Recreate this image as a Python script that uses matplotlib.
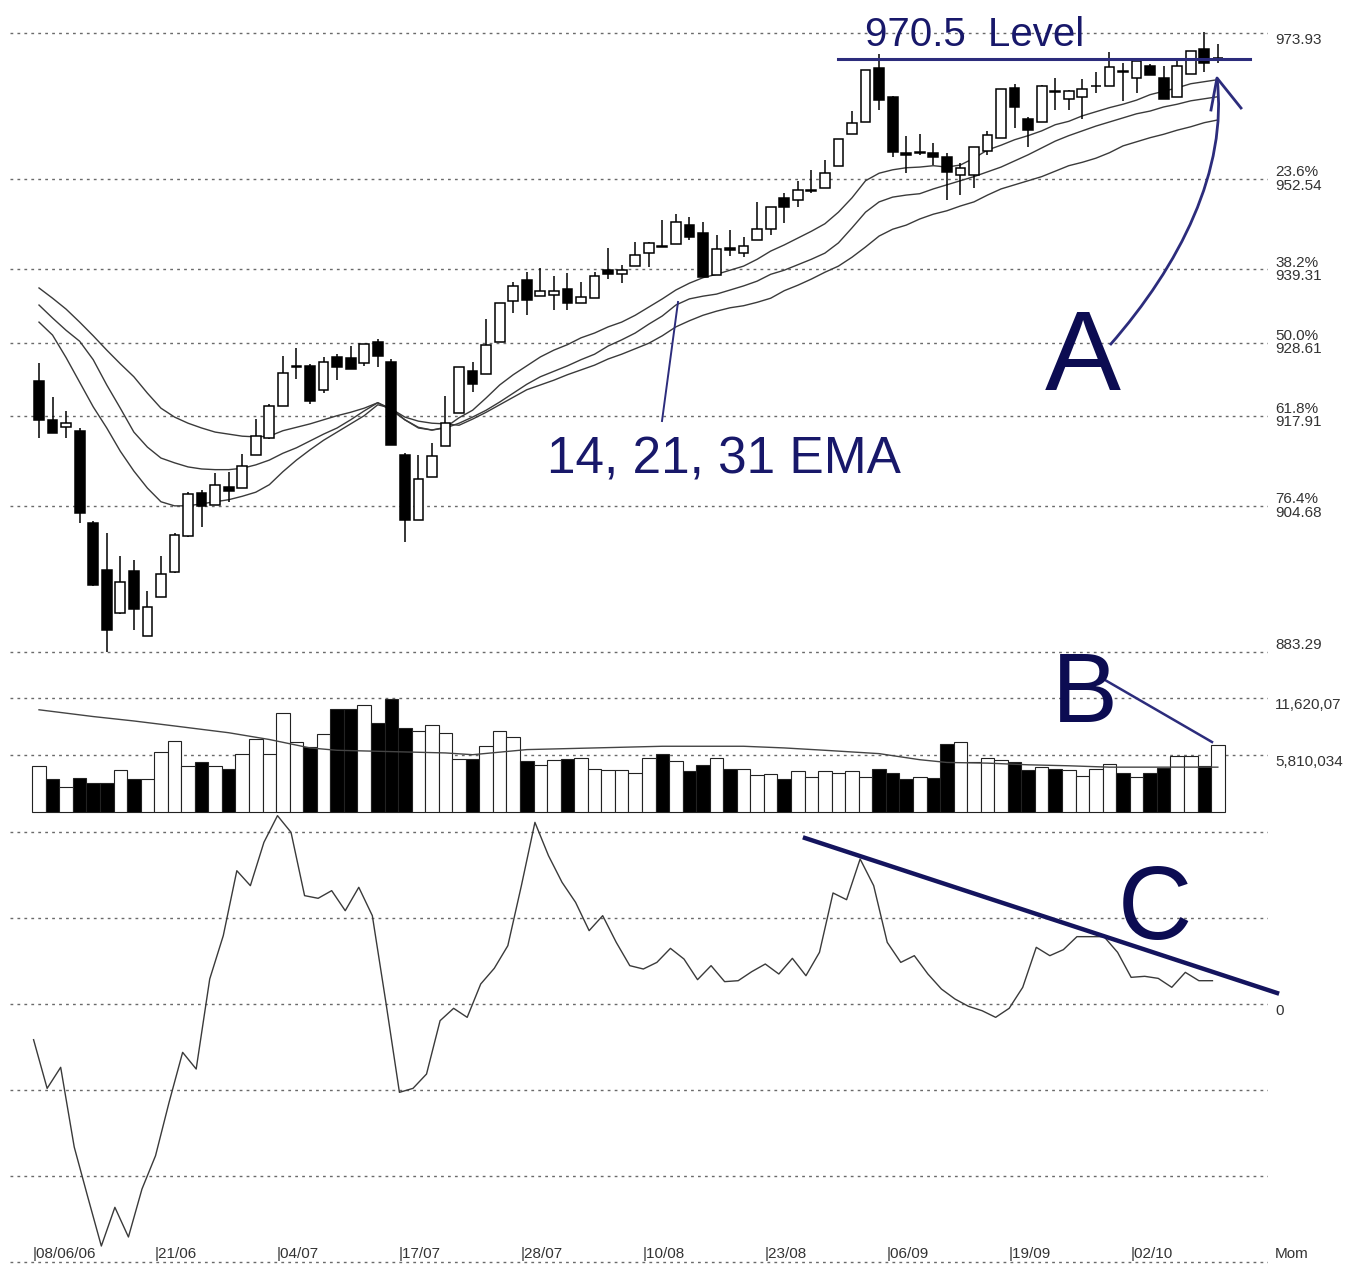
import matplotlib
matplotlib.use('Agg')
import matplotlib.pyplot as plt
from matplotlib import font_manager
from matplotlib.path import Path
from matplotlib.patches import PathPatch

# ---- data (index = trading day) ----
opens = [923.0, 917.2, 916.2, 915.7, 902.2, 895.3, 889.0, 895.1, 885.6, 891.4,
         895.0, 900.3, 906.6, 904.8, 907.5, 907.3, 912.2, 914.6, 919.3, 925.0,
         925.2, 921.6, 926.5, 926.4, 925.6, 928.7, 925.8, 912.1, 902.6, 908.9,
         913.4, 918.3, 924.5, 924.0, 928.7, 934.7, 937.7, 935.4, 935.6, 936.5,
         934.4, 935.2, 939.2, 938.6, 939.8, 941.7, 942.8, 943.0, 945.8, 944.7,
         938.5, 942.4, 941.7, 943.6, 945.2, 949.7, 949.5, 950.8, 951.2, 954.5,
         959.1, 960.9, 968.8, 964.5, 956.4, 956.4, 956.4, 955.8, 953.1, 953.1,
         956.6, 958.6, 965.9, 961.4, 960.9, 965.4, 964.2, 964.6, 966.1, 966.2,
         968.3, 967.3, 969.1, 967.4, 964.5, 967.9, 971.6, 970.2]
highs = [925.6, 920.7, 918.6, 916.1, 902.5, 900.7, 897.4, 896.8, 892.3, 897.3,
         900.7, 906.7, 907.0, 909.5, 909.7, 912.3, 917.4, 919.6, 926.6, 927.8,
         925.5, 926.5, 926.9, 928.1, 928.4, 929.1, 926.2, 912.4, 912.1, 913.9,
         920.8, 925.0, 925.7, 932.0, 934.4, 937.5, 939.0, 939.5, 938.3, 938.8,
         937.5, 939.0, 942.4, 939.9, 943.4, 943.3, 946.6, 947.5, 947.0, 946.3,
         944.4, 945.1, 944.1, 949.2, 948.5, 950.5, 952.2, 953.9, 955.3, 958.4,
         962.5, 968.5, 970.9, 964.7, 958.8, 959.1, 957.8, 956.4, 954.9, 957.2,
         959.6, 965.7, 966.5, 961.6, 966.3, 967.4, 965.6, 967.2, 968.2, 971.1,
         969.6, 970.0, 969.4, 969.1, 969.9, 971.3, 974.1, 972.3]
lows = [914.6, 915.3, 914.6, 902.2, 892.9, 883.3, 888.9, 886.5, 885.6, 891.4,
        894.9, 900.1, 901.6, 904.8, 905.3, 907.3, 912.1, 914.5, 919.3, 923.2,
        919.6, 921.2, 923.1, 924.7, 925.2, 925.1, 913.6, 899.4, 902.6, 908.9,
        913.4, 918.3, 921.4, 924.0, 928.7, 933.0, 932.6, 935.4, 933.4, 933.4,
        934.4, 935.2, 937.9, 937.3, 939.8, 939.7, 942.6, 943.0, 943.6, 938.2,
        938.5, 941.3, 941.2, 943.6, 944.4, 946.1, 948.5, 950.5, 951.2, 954.5,
        959.1, 960.9, 962.7, 955.8, 953.4, 956.1, 954.6, 949.5, 950.2, 951.2,
        956.1, 958.6, 960.0, 957.3, 960.9, 962.7, 962.7, 961.3, 965.2, 966.2,
        964.0, 965.1, 967.8, 964.2, 964.5, 967.9, 968.2, 969.6]
closes = [917.3, 915.4, 916.8, 903.6, 893.1, 886.5, 893.6, 889.6, 889.9, 894.7,
          900.5, 906.4, 904.7, 907.8, 906.9, 910.5, 914.9, 919.3, 924.2, 925.2,
          920.1, 925.7, 925.0, 924.7, 928.4, 926.6, 913.6, 902.6, 908.7, 912.0,
          916.8, 925.0, 922.5, 928.2, 934.4, 936.9, 934.8, 936.1, 936.2, 934.4,
          935.3, 938.3, 938.6, 939.2, 941.4, 943.2, 942.6, 946.3, 944.1, 938.2,
          942.3, 942.2, 942.7, 945.2, 948.5, 948.4, 950.9, 950.9, 953.5, 958.4,
          960.8, 968.5, 964.1, 956.5, 956.0, 956.5, 955.8, 953.6, 954.2, 957.2,
          959.0, 965.7, 963.1, 959.8, 966.2, 965.3, 965.5, 965.8, 966.2, 969.0,
          968.2, 969.9, 967.8, 964.2, 969.1, 971.3, 969.6, 970.3]

ema14 = [931.6, 929.7, 926.4, 922.8, 919.2, 916.1, 912.7, 909.8, 907.3, 905.3,
         904.7, 904.7, 905.0, 905.3, 905.6, 906.1, 906.7, 907.8, 909.7, 911.4,
         912.9, 914.3, 915.5, 916.7, 917.9, 919.5, 919.0, 917.3, 916.1, 915.8,
         916.2, 917.6, 918.7, 920.5, 922.4, 923.9, 925.2, 926.5, 927.5, 928.3,
         929.3, 930.0, 930.9, 931.6, 932.6, 933.8, 935.0, 936.3, 937.3, 938.1,
         938.6, 939.2, 939.8, 940.8, 942.0, 942.9, 943.9, 944.9, 946.0, 947.7,
         949.8, 952.3, 953.4, 953.9, 954.2, 954.3, 954.5, 954.3, 954.6, 955.6,
         956.8, 957.5, 958.3, 958.9, 959.6, 960.5, 961.0, 961.8, 962.4, 963.0,
         963.5, 964.1, 964.9, 965.4, 965.9, 966.5, 966.8, 967.1]
ema21 = [934.1, 932.2, 930.4, 928.8, 926.1, 922.4, 919.0, 915.5, 913.3, 911.7,
         911.0, 910.4, 910.1, 910.0, 910.0, 910.2, 910.7, 911.4, 912.4, 913.2,
         914.2, 915.2, 916.1, 917.3, 918.6, 919.8, 918.7, 917.3, 916.2, 915.8,
         916.1, 916.8, 917.7, 918.7, 919.9, 921.2, 922.5, 923.6, 924.4, 925.2,
         926.1, 926.9, 928.1, 929.0, 930.0, 931.3, 932.5, 934.1, 935.0, 935.4,
         935.7, 936.3, 936.9, 937.6, 938.6, 939.2, 940.0, 940.8, 941.7, 943.2,
         945.4, 947.7, 949.2, 949.9, 950.2, 950.4, 951.1, 951.7, 952.3, 952.9,
         953.6, 954.3, 955.2, 956.1, 957.1, 958.1, 958.9, 959.6, 960.3, 960.9,
         961.5, 962.1, 962.5, 963.1, 963.5, 964.0, 964.3, 964.6]
ema31 = [936.6, 935.1, 933.5, 931.6, 929.6, 927.5, 925.5, 923.6, 921.2, 919.0,
         917.7, 916.8, 916.1, 915.5, 915.2, 914.9, 914.8, 914.9, 915.7, 916.2,
         916.7, 917.3, 917.9, 918.4, 919.0, 919.8, 918.9, 917.7, 917.1, 916.8,
         916.7, 916.5, 917.4, 918.4, 919.5, 920.6, 921.7, 922.4, 923.1, 923.9,
         924.6, 925.3, 926.2, 926.9, 927.7, 928.5, 929.6, 930.9, 931.8, 932.6,
         933.2, 933.7, 934.0, 934.5, 935.1, 936.2, 937.0, 937.9, 938.9, 939.8,
         941.1, 942.6, 944.2, 945.2, 945.8, 946.7, 947.4, 947.9, 948.6, 949.2,
         950.2, 951.1, 951.7, 952.3, 952.9, 953.7, 954.5, 955.0, 955.6, 956.4,
         957.4, 958.0, 958.6, 959.1, 959.7, 960.2, 960.8, 961.2]

# volume in millions, 1 = down day (black bar)
volume = [4.71, 3.33, 2.51, 3.44, 2.99, 2.92, 4.30, 3.33, 3.33, 6.09,
          7.22, 4.71, 5.05, 4.71, 4.37, 5.95, 7.46, 5.95, 10.07, 7.12,
          6.64, 7.91, 10.55, 10.49, 10.90, 9.11, 11.52, 8.53, 8.25, 8.87,
          8.08, 5.40, 5.43, 6.77, 8.25, 7.67, 5.16, 4.81, 5.33, 5.40,
          5.50, 4.37, 4.23, 4.23, 3.95, 5.50, 5.95, 5.16, 4.13, 4.78,
          5.50, 4.37, 4.37, 3.78, 3.88, 3.33, 4.13, 3.54, 4.13, 3.95,
          4.13, 3.54, 4.37, 4.02, 3.33, 3.54, 3.44, 6.94, 7.15, 5.05,
          5.50, 5.33, 5.05, 4.23, 4.57, 4.37, 4.23, 3.68, 4.37, 4.92,
          4.02, 3.54, 4.02, 4.47, 5.67, 5.67, 4.71, 6.88]
vol_down = [0, 1, 0, 1, 1, 1, 0, 1, 0, 0, 0, 0, 1, 0, 1, 0, 0, 0, 0, 0,
            1, 0, 1, 1, 0, 1, 1, 1, 0, 0, 0, 0, 1, 0, 0, 0, 1, 0, 0, 1,
            0, 0, 0, 0, 0, 0, 1, 0, 1, 1, 0, 1, 0, 0, 0, 1, 0, 0, 0, 0,
            0, 0, 1, 1, 1, 0, 1, 1, 0, 0, 0, 0, 1, 1, 0, 1, 0, 0, 0, 0,
            1, 0, 1, 1, 0, 0, 1, 0]
vol_ma_idx = [0, 4, 7, 10, 14, 17, 20, 22, 30, 32, 36, 41, 46, 52, 55, 58,
              62, 65, 67, 70, 73, 76, 79, 83, 87]
vol_ma = [10.42, 9.73, 9.28, 8.77, 8.08, 7.39, 6.53, 6.29, 6.02, 5.84, 6.36,
          6.53, 6.70, 6.70, 6.53, 6.29, 5.95, 5.33, 5.05, 4.98, 4.81, 4.71,
          4.57, 4.57, 4.57]

momentum = [-4.15, -9.81, -7.36, -16.63, -22.44, -28.14, -23.64, -27.09, -21.51, -17.64,
            -11.43, -5.62, -7.56, 2.91, 7.95, 15.50, 13.76, 18.80, 21.90, 19.96,
            12.60, 12.29, 13.18, 10.85, 13.57, 10.27, 0.19, -10.27, -9.81, -8.14,
            -1.94, -0.50, -1.55, 2.33, 4.15, 6.78, 13.76, 21.12, 17.25, 14.15,
            11.82, 8.53, 10.27, 7.17, 4.46, 4.07, 4.84, 6.47, 5.23, 2.83,
            4.46, 2.60, 2.71, 3.76, 4.65, 3.49, 5.31, 3.29, 6.01, 12.91,
            12.13, 16.86, 13.76, 7.17, 4.84, 5.62, 3.49, 1.74, 0.58, -0.27,
            -0.78, -1.55, -0.50, 1.94, 6.59, 5.62, 6.32, 7.83, 7.83, 7.83,
            6.01, 3.10, 3.22, 2.98, 1.94, 3.68, 2.71, 2.71]

fib_pcts = ['23.6%', '38.2%', '50.0%', '61.8%', '76.4%']
fib_vals = [952.54, 939.31, 928.61, 917.91, 904.68]
price_high, price_low = 973.93, 883.29
level_price = 970.1
vol_grid = [11.62007, 5.810034]
vol_grid_lbl = ['11,620,07', '5,810,034']
mom_grid = [20, 10, 0, -10, -20]
date_idx = [0, 9, 18, 27, 36, 45, 54, 63, 72, 81]
date_lbl = ['08/06/06', '21/06', '04/07', '17/07', '28/07',
            '10/08', '23/08', '06/09', '19/09', '02/10']

# ---- style ----
_names = {f.name for f in font_manager.fontManager.ttflist}
NARROW = 'Liberation Sans Narrow' if 'Liberation Sans Narrow' in _names else 'Liberation Sans'
NAVY = '#18186a'
DARK = '#0c0c52'
LINE = '#2c2c7c'
GRID = dict(color='#6a6a6a', lw=1.0, ls=(0, (2, 3)))
SMALL = dict(fontsize=11, color='#333333', family=NARROW)
MOM_SHIFT = -0.4   # momentum line sits a few pixels left of the bars

W, H = 1348, 1264
X0, DX = 39, 13.55
fig = plt.figure(figsize=(W / 100, H / 100), dpi=100)


def panel(top, bottom):
    a = fig.add_axes([10 / W, 1 - bottom / H, 1258 / W, (bottom - top) / H])
    a.set_xlim((10 - X0) / DX, (1268 - X0) / DX)
    a.axis('off')
    return a


idx = list(range(len(closes)))

# price panel
ax = panel(0, 668)
ax.set_ylim(880.96, 978.76)
for lvl in [price_high] + fib_vals + [price_low]:
    ax.axhline(lvl, **GRID, zorder=1)
ytr = ax.get_yaxis_transform()
ax.text(1.0056, price_high, f'{price_high:.2f}', transform=ytr, va='top', **SMALL)
for p, v in zip(fib_pcts, fib_vals):
    ax.text(1.0056, v, f'{p}\n{v:.2f}', transform=ytr, va='center',
            linespacing=0.95, **SMALL)
ax.text(1.0056, price_low, f'{price_low:.2f}', transform=ytr, va='bottom', **SMALL)

for e in (ema14, ema21, ema31):
    ax.plot(idx, e, color='#3a3a3a', lw=1.0, zorder=2)

ax.vlines(idx, lows, highs, color='black', lw=1.1, zorder=3)
body_bot = [min(o, c) for o, c in zip(opens, closes)]
body_h = [abs(c - o) for o, c in zip(opens, closes)]
body_col = ['black' if c < o else 'white' for o, c in zip(opens, closes)]
ax.bar(idx, body_h, bottom=body_bot, width=0.72, color=body_col,
       edgecolor='black', lw=1.1, zorder=4)
ax.plot([59.0, 89.4], [level_price, level_price], color=LINE, lw=2.2,
        zorder=6, clip_on=False)

# volume panel
axv = panel(668, 816)
axv.set_ylim(-0.41, 14.68)
for g, lbl in zip(vol_grid, vol_grid_lbl):
    axv.axhline(g, **GRID, zorder=1)
    axv.text(1.0056, g, lbl, transform=axv.get_yaxis_transform(), va='top', **SMALL)
axv.bar(idx, volume, width=1.0, color=['black' if d else 'white' for d in vol_down],
        edgecolor='#222222', lw=0.8, zorder=2, clip_on=False)
axv.plot(vol_ma_idx, vol_ma, color='#444444', lw=1.0, zorder=3)

# momentum panel
axm = panel(816, 1264)
axm.set_ylim(-30.23, 21.86)
for g in mom_grid + [-30]:
    axm.axhline(g, **GRID, zorder=1)
axm.text(1.0056, 0, '0', transform=axm.get_yaxis_transform(), va='top', **SMALL)
axm.plot([i + MOM_SHIFT for i in idx], momentum, color='#3a3a3a', lw=1.0,
         zorder=2, clip_on=False)
for i, lbl in zip(date_idx, date_lbl):
    axm.text(i - 0.45, -29.9, '|' + lbl, va='bottom', ha='left', **SMALL)
axm.text(1.0056, -29.9, 'Mom', transform=axm.get_yaxis_transform(), va='bottom', **SMALL)

# annotations, drawn in pixel space over the whole figure
ann = fig.add_axes([0, 0, 1, 1])
ann.set_xlim(0, W)
ann.set_ylim(H, 0)
ann.axis('off')
ann.set_zorder(10)

ann.text(865, 46, '970.5  Level', fontsize=29, color=NAVY, family=NARROW)
ann.text(547, 473, '14, 21, 31 EMA', fontsize=37, color=NAVY, family=NARROW)
ann.plot([662, 678], [421, 302], color=LINE, lw=1.4)
ann.text(1045, 390, 'A', fontsize=82, color=DARK, family=NARROW)
ann.text(1052, 722, 'B', fontsize=71, color=DARK, family=NARROW)
ann.text(1118, 939, 'C', fontsize=74, color=DARK, family=NARROW)

curve = Path([(1110, 345), (1180, 265), (1228, 170), (1217, 78)],
             [Path.MOVETO, Path.CURVE4, Path.CURVE4, Path.CURVE4])
ann.add_patch(PathPatch(curve, fill=False, edgecolor=LINE, lw=2.0))
ann.plot([1211, 1217, 1241], [110, 78, 108], color=LINE, lw=2.0)
ann.plot([1105, 1212], [680, 742], color=LINE, lw=1.8)
ann.plot([805, 1277], [838, 993], color='#14145e', lw=3.2)

fig.savefig('out.png', dpi=100, facecolor='white')
